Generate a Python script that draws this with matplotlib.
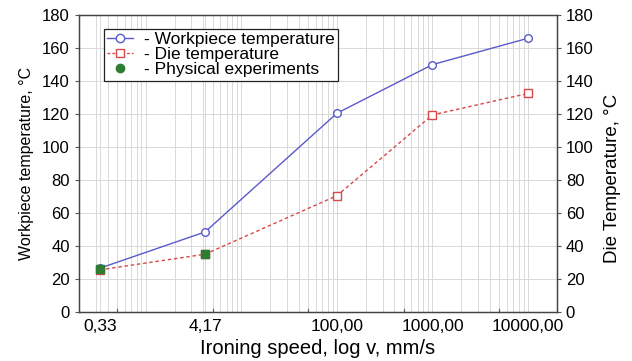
import matplotlib
matplotlib.use("Agg")
import matplotlib.pyplot as plt
from matplotlib.lines import Line2D
import numpy as np

plt.rcParams['font.family'] = ['Liberation Sans', 'DejaVu Sans']

speed = [0.33, 4.17, 100.0, 1000.0, 10000.0]
speed_labels = ['0,33', '4,17', '100,00', '1000,00', '10000,00']
workpiece_temp = [26.5, 48.5, 120.5, 150.0, 166.0]
die_temp = [25.5, 35.0, 70.5, 119.5, 132.5]
exp_speed = [0.33, 4.17]
exp_temp = [26.0, 35.0]
y_ticks = [0, 20, 40, 60, 80, 100, 120, 140, 160, 180]

blue = '#5a5ac8'
red = '#d84848'
green = '#2e7d32'

fig = plt.figure(figsize=(6.32, 3.61), dpi=100)
ax = fig.add_axes([0.125, 0.136, 0.756, 0.822])
ax.set_xscale('log')
ax.set_xlim(0.2, 20000)
ax.set_ylim(0, 180)

# grid
ax.set_yticks(y_ticks)
ax.grid(True, which='both', axis='x', color='#d9d9d9', lw=0.7)
ax.grid(True, which='major', axis='y', color='#d9d9d9', lw=0.7)
ax.set_axisbelow(True)

ax.plot(speed, workpiece_temp, color=blue, lw=1.0, marker='o', ms=5.5,
        mfc='white', mec=blue, mew=1.0, zorder=3)
ax.plot(speed, die_temp, color=red, lw=1.0, ls=(0, (2.5, 2)), marker='s', ms=5.5,
        mfc='white', mec=red, mew=1.0, zorder=3)
ax.plot(exp_speed, exp_temp, ls='none', marker='s', ms=5.5, mfc=green,
        mec=green, zorder=4)

# x tick labels at data positions, tick marks at 5*10^k
ax.set_xticks(speed)
ax.set_xticklabels(speed_labels)
ax.xaxis.set_minor_locator(matplotlib.ticker.LogLocator(base=10, subs=np.arange(1, 10)))
ax.xaxis.set_minor_formatter(matplotlib.ticker.NullFormatter())
ax.tick_params(axis='x', which='both', length=0, labelsize=12.5, pad=5)
for xm in [0.5, 5, 50, 500, 5000]:
    ax.plot([xm, xm], [0, 2], color='#555555', lw=0.8, clip_on=False, zorder=5)

ax.tick_params(axis='y', which='major', direction='out', length=3,
               labelsize=12, color='#555555')
for s in ax.spines.values():
    s.set_color('#444444')
    s.set_linewidth(0.9)

ax.set_xlabel('Ironing speed, log v, mm/s', fontsize=14.5, labelpad=4)
ax.set_ylabel('Workpiece temperature, °C', fontsize=11.5, labelpad=6)

ax2 = ax.twinx()
ax2.set_ylim(0, 180)
ax2.set_yticks(y_ticks)
ax2.tick_params(axis='y', direction='out', length=3, labelsize=12, color='#555555')
ax2.set_ylabel('Die Temperature, °C', fontsize=13.5)
ax2.yaxis.set_label_coords(1.098, 0.45)
for s in ax2.spines.values():
    s.set_color('#444444')
    s.set_linewidth(0.9)

handles = [
    Line2D([], [], color=blue, lw=1.0, marker='o', ms=6, mfc='white', mec=blue),
    Line2D([], [], color=red, lw=1.0, ls=(0, (2, 1.5)), marker='s', ms=6, mfc='white', mec=red),
    Line2D([], [], ls='none', marker='o', ms=6, mfc=green, mec=green),
]
labels = ['- Workpiece temperature', '- Die temperature', '- Physical experiments']
leg = ax.legend(handles, labels, loc='upper left', bbox_to_anchor=(0.052, 0.955),
                fontsize=12.5, frameon=True, fancybox=False, framealpha=1,
                edgecolor='#222222', handlelength=1.5, handletextpad=0.6,
                borderpad=0.2, labelspacing=0.0, borderaxespad=0)
leg.get_frame().set_linewidth(0.9)

fig.savefig('out.png', dpi=100)
